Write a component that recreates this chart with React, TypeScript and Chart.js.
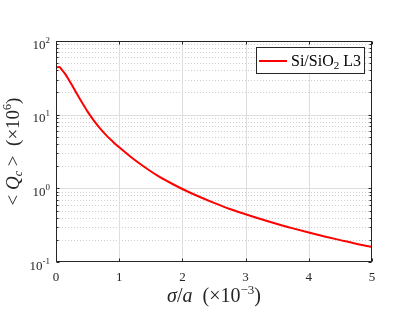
import React, { useEffect, useRef } from "react";
import { Chart, registerables } from "chart.js";

Chart.register(...registerables);

// sigma/a (x10^-3)
const sigmaA = [0, 0.05, 0.1, 0.15, 0.2, 0.25, 0.3, 0.4, 0.5, 0.6, 0.7, 0.8, 0.9, 1.0, 1.2, 1.4, 1.6, 1.8, 2.0, 2.25, 2.5, 2.75, 3.0, 3.25, 3.5, 3.75, 4.0, 4.25, 4.5, 4.75, 5.0];
// <Qc> (x10^6)
const qcMean = [44, 44.2, 40, 35.3, 30, 25.4, 21.3, 15.2, 11.0, 8.3, 6.45, 5.2, 4.3, 3.6, 2.6, 1.95, 1.5, 1.2, 0.98, 0.78, 0.635, 0.525, 0.445, 0.38, 0.328, 0.286, 0.251, 0.222, 0.198, 0.177, 0.16];

const xTicks = [0, 1, 2, 3, 4, 5];
const yDecades = [0.1, 1, 10, 100];
const yExponents = ["-1", "0", "1", "2"];
const seriesLabel = "Si/SiO";
const seriesSub = "2";
const seriesSuffix = " L3";

const SERIF = '"Liberation Serif", "DejaVu Serif", serif';
const AXIS = "rgb(38,38,38)";

type Piece = { t: string; size: number; italic?: boolean; dy?: number };

function drawPieces(ctx: CanvasRenderingContext2D, pieces: Piece[], x: number, y: number, align: "left" | "center" | "right") {
  const widths = pieces.map((p) => {
    ctx.font = `${p.italic ? "italic " : ""}${p.size}px ${SERIF}`;
    return ctx.measureText(p.t).width;
  });
  const total = widths.reduce((a, b) => a + b, 0);
  let cx = align === "left" ? x : align === "center" ? x - total / 2 : x - total;
  ctx.textAlign = "left";
  ctx.textBaseline = "alphabetic";
  pieces.forEach((p, i) => {
    ctx.font = `${p.italic ? "italic " : ""}${p.size}px ${SERIF}`;
    ctx.fillText(p.t, cx, y + (p.dy || 0));
    cx += widths[i];
  });
}

const decorPlugin = {
  id: "decor",
  beforeDatasetsDraw(chart: any) {
    const { ctx, chartArea: a, scales } = chart;
    const xs = scales.x, ys = scales.y;
    ctx.save();
    ctx.strokeStyle = "rgb(205,205,205)";
    ctx.lineWidth = 1;
    ctx.setLineDash([1, 2]);
    for (let d = 0; d < yDecades.length - 1; d++) {
      for (let m = 2; m <= 9; m++) {
        const py = Math.round(ys.getPixelForValue(yDecades[d] * m)) + 0.5;
        ctx.beginPath();
        ctx.moveTo(a.left, py);
        ctx.lineTo(a.right, py);
        ctx.stroke();
      }
    }
    ctx.setLineDash([]);
    ctx.strokeStyle = "rgb(222,222,222)";
    for (let d = 1; d < yDecades.length - 1; d++) {
      const py = Math.round(ys.getPixelForValue(yDecades[d])) + 0.5;
      ctx.beginPath();
      ctx.moveTo(a.left, py);
      ctx.lineTo(a.right, py);
      ctx.stroke();
    }
    for (let i = 1; i < xTicks.length - 1; i++) {
      const px = Math.round(xs.getPixelForValue(xTicks[i])) + 0.5;
      ctx.beginPath();
      ctx.moveTo(px, a.top);
      ctx.lineTo(px, a.bottom);
      ctx.stroke();
    }
    ctx.restore();
  },
  afterDatasetsDraw(chart: any) {
    const { ctx, chartArea: a, scales } = chart;
    const xs = scales.x, ys = scales.y;
    ctx.save();
    const L = Math.round(a.left) + 0.5, R = Math.round(a.right) - 0.5;
    const T = Math.round(a.top) + 0.5, B = Math.round(a.bottom) - 0.5;
    ctx.strokeStyle = AXIS;
    ctx.lineWidth = 1;
    ctx.strokeRect(L, T, R - L, B - T);
    ctx.beginPath();
    xTicks.forEach((v) => {
      const px = Math.round(xs.getPixelForValue(v)) + 0.5;
      ctx.moveTo(px, B); ctx.lineTo(px, B - 3);
      ctx.moveTo(px, T); ctx.lineTo(px, T + 3);
    });
    for (let d = 0; d < yDecades.length; d++) {
      const py = Math.round(ys.getPixelForValue(yDecades[d])) + 0.5;
      ctx.moveTo(L, py); ctx.lineTo(L + 3, py);
      ctx.moveTo(R, py); ctx.lineTo(R - 3, py);
      if (d < yDecades.length - 1) {
        for (let m = 2; m <= 9; m++) {
          const pm = Math.round(ys.getPixelForValue(yDecades[d] * m)) + 0.5;
          ctx.moveTo(L, pm); ctx.lineTo(L + 2, pm);
          ctx.moveTo(R, pm); ctx.lineTo(R - 2, pm);
        }
      }
    }
    ctx.stroke();
    ctx.fillStyle = AXIS;
    ctx.font = `13px ${SERIF}`;
    ctx.textAlign = "center";
    ctx.textBaseline = "alphabetic";
    xTicks.forEach((v) => {
      ctx.fillText(String(v), xs.getPixelForValue(v), a.bottom + 19);
    });
    yDecades.forEach((v, i) => {
      const py = ys.getPixelForValue(v);
      ctx.font = `9px ${SERIF}`;
      const ew = ctx.measureText(yExponents[i]).width;
      ctx.textAlign = "left";
      ctx.fillText(yExponents[i], 50 - ew, py + 1.5);
      ctx.font = `13px ${SERIF}`;
      ctx.textAlign = "right";
      ctx.fillText("10", 50 - ew, py + 7.5);
    });
    // x title
    drawPieces(ctx, [
      { t: "σ", size: 20, italic: true },
      { t: "/", size: 20 },
      { t: "a", size: 20, italic: true },
      { t: "  (×10", size: 20 },
      { t: "−3", size: 13, dy: -8 },
      { t: ")", size: 20 },
    ], (a.left + a.right) / 2, 302, "center");
    // y title
    ctx.save();
    ctx.translate(19, (a.top + a.bottom) / 2);
    ctx.rotate(-Math.PI / 2);
    drawPieces(ctx, [
      { t: "< ", size: 19 },
      { t: "Q", size: 19, italic: true },
      { t: "c", size: 12, italic: true, dy: 3 },
      { t: " >  (×10", size: 19 },
      { t: "6", size: 12, dy: -8 },
      { t: ")", size: 19 },
    ], 0, 0, "center");
    ctx.restore();
    // legend
    ctx.fillStyle = "#fff";
    ctx.fillRect(256.5, 47.5, 108, 26);
    ctx.strokeStyle = AXIS;
    ctx.strokeRect(256.5, 47.5, 108, 26);
    ctx.strokeStyle = chart.data.datasets[0].borderColor;
    ctx.lineWidth = 2;
    ctx.beginPath();
    ctx.moveTo(259, 61); ctx.lineTo(287, 61);
    ctx.stroke();
    ctx.fillStyle = "#000";
    drawPieces(ctx, [
      { t: seriesLabel, size: 16 },
      { t: seriesSub, size: 11, dy: 3 },
      { t: seriesSuffix, size: 16 },
    ], 291, 66, "left");
    ctx.restore();
  },
};

export default function App() {
  const ref = useRef<HTMLCanvasElement | null>(null);
  useEffect(() => {
    if (!ref.current) return;
    const chart = new Chart(ref.current, {
      type: "line",
      data: {
        datasets: [
          {
            label: seriesLabel + seriesSub + seriesSuffix,
            data: sigmaA.map((x, i) => ({ x, y: qcMean[i] })),
            borderColor: "rgb(255,0,0)",
            borderWidth: 2,
            pointRadius: 0,
            cubicInterpolationMode: "monotone",
            fill: false,
          },
        ],
      },
      options: {
        animation: false,
        responsive: false,
        maintainAspectRatio: false,
        layout: { padding: { left: 56, right: 43, top: 41, bottom: 51 } },
        plugins: { legend: { display: false }, tooltip: { enabled: false } },
        scales: {
          x: {
            type: "linear",
            min: 0,
            max: 5,
            display: true,
            grid: { display: false, drawTicks: false },
            border: { display: false },
            ticks: { display: false },
          },
          y: {
            type: "logarithmic",
            min: 0.1,
            max: 100,
            display: true,
            grid: { display: false, drawTicks: false },
            border: { display: false },
            ticks: { display: false },
          },
        },
      },
      plugins: [decorPlugin],
    });
    return () => chart.destroy();
  }, []);
  return (
    <div style={{ position: "fixed", left: 0, top: 0, width: 415, height: 313, background: "#fff" }}>
      <canvas ref={ref} width={415} height={313} style={{ width: 415, height: 313 }} />
    </div>
  );
}
